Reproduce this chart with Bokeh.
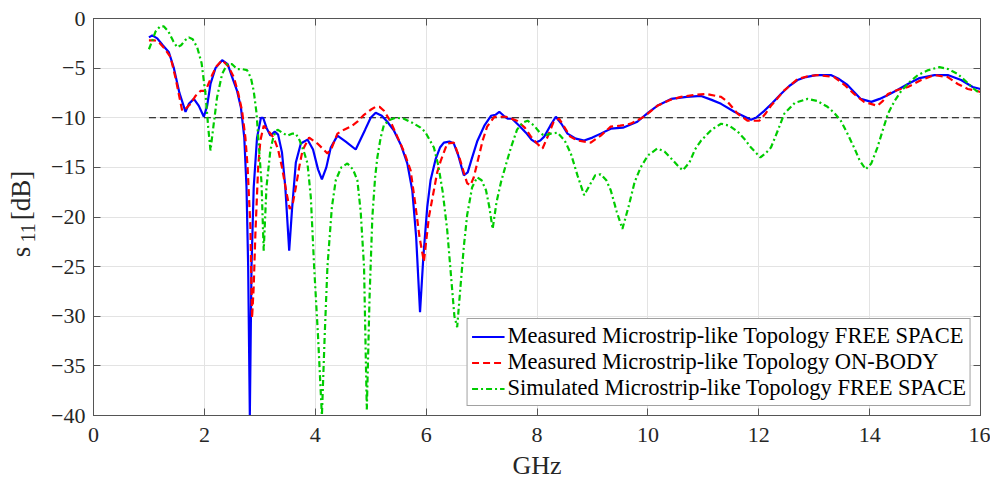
import math
from bokeh.plotting import figure
from bokeh.layouts import row
from bokeh.models import Range1d, LinearAxis, Legend, LegendItem, FixedTicker
from bokeh.core.properties import value
from bokeh.embed import file_html
from bokeh.resources import INLINE

# ---------------- data ----------------
freq_meas_fs = [1.00, 1.06, 1.15, 1.25, 1.36, 1.45, 1.55, 1.66, 1.72, 1.81, 1.90, 1.99, 2.05, 2.11, 2.20,
                2.32, 2.42, 2.52, 2.59, 2.66, 2.72, 2.76, 2.79, 2.82, 2.85, 2.89, 2.95, 3.02, 3.06, 3.12,
                3.19, 3.27, 3.33, 3.40, 3.46, 3.53, 3.58, 3.65, 3.74, 3.86, 3.96, 4.05, 4.12, 4.20, 4.28,
                4.40, 4.55, 4.73, 4.90, 5.00, 5.09, 5.20, 5.30, 5.42, 5.55, 5.66, 5.75, 5.82, 5.89, 5.95,
                6.02, 6.08, 6.17, 6.25, 6.32, 6.42, 6.50, 6.58, 6.68, 6.75, 6.82, 6.92, 7.05, 7.17, 7.25,
                7.32, 7.40, 7.47, 7.55, 7.68, 7.80, 7.90, 7.98, 8.06, 8.13, 8.24, 8.34, 8.44, 8.55, 8.70,
                8.85, 9.00, 9.15, 9.33, 9.55, 9.81, 10.00, 10.17, 10.42, 10.70, 10.96, 11.15, 11.32, 11.56,
                11.86, 11.95, 12.10, 12.25, 12.40, 12.55, 12.70, 12.85, 13.03, 13.30, 13.45, 13.60, 13.72,
                13.84, 14.03, 14.18, 14.33, 14.50, 14.69, 14.90, 15.17, 15.41, 15.65, 15.86, 16.00]
s11_meas_fs = [-1.9, -1.7, -2.0, -2.7, -3.4, -5.0, -7.5, -9.4, -8.6, -8.1, -8.8, -9.9, -8.8, -6.6, -5.0,
               -4.2, -4.6, -6.2, -7.3, -9.0, -12.0, -17.0, -25.0, -40.0, -25.0, -17.0, -12.0, -10.0, -10.0, -11.0,
               -11.8, -11.4, -11.7, -13.5, -17.0, -23.4, -19.3, -14.5, -12.6, -12.2, -13.2, -15.2, -16.2, -15.0, -13.0,
               -11.8, -12.4, -13.2, -11.2, -10.0, -9.5, -9.8, -10.4, -11.3, -12.8, -14.6, -17.3, -22.0, -29.6, -24.0,
               -19.0, -16.3, -14.2, -13.0, -12.5, -12.4, -12.6, -13.8, -15.8, -15.5, -14.2, -12.4, -10.8, -9.8, -9.7,
               -9.4, -9.8, -10.1, -10.1, -10.8, -11.5, -12.2, -12.5, -12.3, -11.9, -10.8, -9.9, -10.6, -11.6, -12.1,
               -12.3, -12.0, -11.6, -11.1, -11.0, -10.4, -9.5, -8.8, -8.1, -7.9, -7.8, -8.2, -8.6, -9.4,
               -10.2, -10.0, -9.3, -8.5, -7.6, -6.8, -6.2, -5.9, -5.7, -5.7, -6.1, -6.7, -7.4,
               -8.1, -8.4, -8.1, -7.7, -7.2, -6.6, -6.0, -5.7, -5.7, -6.2, -6.9, -7.1]

freq_meas_body = [1.00, 1.10, 1.18, 1.28, 1.39, 1.48, 1.60, 1.68, 1.75, 1.84, 1.93, 2.02, 2.08, 2.14, 2.22,
                  2.32, 2.43, 2.53, 2.61, 2.68, 2.74, 2.78, 2.83, 2.86, 2.89, 2.92, 2.97, 3.01, 3.07, 3.15,
                  3.25, 3.33, 3.40, 3.48, 3.54, 3.60, 3.65, 3.71, 3.77, 3.89, 4.04, 4.15, 4.22, 4.30, 4.40,
                  4.52, 4.64, 4.76, 4.88, 5.00, 5.09, 5.16, 5.24, 5.36, 5.48, 5.60, 5.72, 5.80, 5.88, 5.96,
                  6.05, 6.14, 6.20, 6.26, 6.38, 6.50, 6.60, 6.68, 6.74, 6.80, 6.86, 6.92, 7.02, 7.10, 7.23,
                  7.44, 7.64, 7.78, 7.89, 8.00, 8.10, 8.20, 8.30, 8.40, 8.50, 8.60, 8.73, 8.97, 9.15, 9.33,
                  9.50, 9.69, 9.93, 10.17, 10.40, 10.60, 10.83, 11.05, 11.32, 11.44, 11.62, 11.80, 12.01, 12.12,
                  12.22, 12.45, 12.70, 12.90, 13.06, 13.36, 13.55, 13.72, 13.90, 14.14, 14.24, 14.33, 14.50,
                  14.69, 14.93, 15.17, 15.41, 15.59, 15.77, 15.86, 16.00]
s11_meas_body = [-2.2, -2.2, -2.4, -3.0, -3.9, -6.0, -9.3, -9.0, -8.6, -7.8, -7.3, -7.3, -6.5, -5.7, -4.8,
                 -4.2, -4.8, -5.9, -7.5, -9.3, -12.0, -15.0, -21.0, -30.2, -27.0, -21.7, -15.0, -12.3, -10.8, -11.3,
                 -12.0, -13.2, -15.0, -17.5, -19.2, -18.5, -17.0, -15.0, -13.3, -12.0, -12.6, -13.2, -13.6, -13.0, -11.6,
                 -11.2, -10.9, -10.4, -9.7, -9.2, -8.9, -8.9, -9.3, -10.4, -11.9, -13.4, -15.3, -18.5, -22.0, -24.5,
                 -20.0, -17.3, -15.5, -14.4, -12.6, -12.5, -14.0, -15.5, -16.6, -16.8, -16.0, -14.6, -12.3, -10.9, -9.9,
                 -9.9, -10.3, -11.0, -11.9, -12.6, -13.1, -11.8, -10.4, -10.1, -11.0, -11.9, -12.3, -12.5, -11.8, -10.9,
                 -10.8, -10.6, -9.9, -8.8, -8.2, -7.9, -7.7, -7.6, -7.9, -8.4, -9.6, -10.3, -10.3, -9.6,
                 -8.8, -7.3, -6.1, -5.8, -5.7, -5.9, -6.7, -7.6, -8.4, -8.8, -8.3, -7.6, -7.2,
                 -6.9, -6.2, -5.7, -5.9, -6.6, -7.1, -7.2, -7.4]

freq_sim_fs = [1.00, 1.05, 1.12, 1.20, 1.27, 1.35, 1.44, 1.51, 1.58, 1.65, 1.72, 1.79, 1.87, 1.95, 2.02,
               2.07, 2.11, 2.16, 2.23, 2.32, 2.41, 2.50, 2.59, 2.68, 2.77, 2.84, 2.89, 2.94, 2.98, 3.03,
               3.07, 3.12, 3.19, 3.25, 3.32, 3.40, 3.50, 3.58, 3.65, 3.72, 3.80, 3.86, 3.92, 3.98, 4.05,
               4.12, 4.17, 4.22, 4.30, 4.37, 4.47, 4.58, 4.68, 4.76, 4.82, 4.88, 4.93, 4.98, 5.03, 5.08,
               5.12, 5.18, 5.24, 5.35, 5.45, 5.60, 5.75, 5.90, 5.98, 6.06, 6.14, 6.22, 6.30, 6.38, 6.45,
               6.51, 6.56, 6.62, 6.68, 6.74, 6.83, 6.92, 7.00, 7.08, 7.14, 7.20, 7.27, 7.35, 7.41, 7.53,
               7.64, 7.74, 7.83, 7.95, 8.05, 8.13, 8.25, 8.37, 8.50, 8.61, 8.73, 8.85, 8.95, 9.05, 9.15,
               9.25, 9.33, 9.44, 9.54, 9.65, 9.76, 9.87, 10.00, 10.17, 10.30, 10.42, 10.55, 10.63, 10.75,
               10.85, 10.96, 11.15, 11.32, 11.47, 11.62, 11.75, 11.86, 12.03, 12.12, 12.22, 12.35, 12.46,
               12.65, 12.88, 13.05, 13.24, 13.36, 13.48, 13.60, 13.72, 13.82, 13.93, 14.03, 14.14, 14.24,
               14.33, 14.45, 14.57, 14.72, 14.87, 15.06, 15.26, 15.42, 15.59, 15.75, 15.86, 16.00]
s11_sim_fs = [-3.1, -2.4, -1.3, -0.8, -0.8, -1.3, -2.3, -2.9, -2.7, -2.2, -1.9, -2.1, -2.9, -4.5, -7.6,
              -11.0, -13.3, -11.0, -7.9, -5.6, -4.6, -4.6, -5.1, -5.1, -5.2, -6.0, -7.3, -9.5, -12.6, -16.5,
              -23.4, -17.0, -13.3, -11.8, -11.2, -11.5, -11.8, -11.6, -11.6, -12.3, -13.5, -14.6, -18.0, -25.0, -32.0,
              -40.0, -32.0, -25.0, -19.0, -16.3, -15.0, -14.6, -15.2, -16.3, -19.5, -25.0, -39.4, -28.0, -20.0, -16.0,
              -14.0, -12.0, -10.7, -10.2, -10.0, -10.1, -10.5, -11.0, -11.4, -12.2, -13.0, -14.8, -17.5, -21.3, -26.0,
              -30.0, -31.1, -27.0, -23.0, -19.8, -17.0, -16.0, -16.3, -17.3, -19.0, -21.2, -18.5, -16.5, -15.3, -13.0,
              -11.2, -10.5, -10.3, -10.8, -11.5, -11.8, -11.6, -11.5, -12.3, -13.6, -15.8, -17.8, -16.8, -15.8, -15.7,
              -16.3, -17.3, -19.5, -21.2, -19.0, -16.5, -15.0, -13.8, -13.1, -13.4, -14.1, -14.9, -15.3, -14.5,
              -13.2, -12.3, -11.2, -10.6, -10.8, -11.4, -12.2, -13.0, -14.0, -13.6, -13.0, -11.2, -9.6,
              -8.5, -8.1, -8.3, -8.9, -9.5, -10.3, -11.6, -13.0, -14.3, -15.2, -14.6, -13.0, -11.2,
              -9.6, -8.3, -7.3, -6.4, -5.7, -5.2, -4.9, -5.1, -5.6, -6.4, -7.0, -7.6]

threshold_freq = [1.0, 16.0]
threshold_db = [-10.0, -10.0]

x_ticks = [0, 2, 4, 6, 8, 10, 12, 14, 16]
y_ticks = [0, -5, -10, -15, -20, -25, -30, -35, -40]

series_labels = ["Measured Microstrip-like Topology FREE SPACE",
                 "Measured Microstrip-like Topology ON-BODY",
                 "Simulated Microstrip-like Topology FREE SPACE"]

# y-axis title pieces: "s" with subscript "11", then "[dB]"
ylabel_parts = ["s", "11", "[dB]"]

FONT = "Liberation Serif"
AX = "#555555"
TXT = "#262626"
LABEL_W = 45

# ---------- narrow panel holding the y-axis title ----------
lab = figure(width=LABEL_W, height=484, output_backend="svg", toolbar_location=None,
             x_range=Range1d(0, LABEL_W), y_range=Range1d(0, 484),
             x_axis_type=None, y_axis_type=None, min_border=0)
lab.outline_line_color = None
lab.background_fill_color = "white"
lab.border_fill_color = "white"
# positions in panel pixels (y from bottom), tuned to the rendered layout
lab.text(x=[20], y=[193], text=[ylabel_parts[0]], angle=math.pi / 2,
         text_font=value(FONT), text_font_size="27px", text_color=TXT,
         text_align="left", text_baseline="alphabetic")
lab.text(x=[27], y=[211], text=[ylabel_parts[1]], angle=math.pi / 2,
         text_font=value(FONT), text_font_size="20px", text_color=TXT,
         text_align="left", text_baseline="alphabetic")
lab.text(x=[20.5], y=[238], text=[ylabel_parts[2]], angle=math.pi / 2,
         text_font=value(FONT), text_font_size="27px", text_color=TXT,
         text_align="left", text_baseline="alphabetic")

# ---------- main plot ----------
p = figure(width=990 - LABEL_W, height=484, output_backend="svg", toolbar_location=None,
           x_range=Range1d(0, 16), y_range=Range1d(-40, 0),
           min_border_left=93 - LABEL_W, min_border_right=10, min_border_top=18, min_border_bottom=69)
p.background_fill_color = "white"
p.border_fill_color = "white"
p.outline_line_color = AX
p.outline_line_width = 1

p.xaxis.ticker = FixedTicker(ticks=x_ticks)
p.yaxis.ticker = FixedTicker(ticks=y_ticks)

p.axis.major_tick_in = 7
p.axis.major_tick_out = 0
p.axis.minor_tick_line_color = None
p.axis.axis_line_color = AX
p.axis.major_tick_line_color = AX
p.axis.major_label_text_color = TXT
p.axis.major_label_text_font = FONT
p.axis.major_label_text_font_size = "22px"
p.axis.major_label_text_font_style = "normal"
p.xaxis.major_label_standoff = 12
p.yaxis.major_label_standoff = 8

p.xaxis.axis_label = "GHz"
p.xaxis.axis_label_text_font = FONT
p.xaxis.axis_label_text_font_size = "26px"
p.xaxis.axis_label_text_font_style = "normal"
p.xaxis.axis_label_text_color = TXT
p.xaxis.axis_label_standoff = 6

# mirrored axes on top and right (ticks only)
top = LinearAxis(ticker=FixedTicker(ticks=x_ticks), major_tick_in=7, major_tick_out=0,
                 minor_tick_line_color=None, axis_line_color=AX, major_tick_line_color=AX,
                 major_label_text_font_size="1px", major_label_text_color=None, major_label_standoff=0)
right = LinearAxis(ticker=FixedTicker(ticks=y_ticks), major_tick_in=7, major_tick_out=0,
                   minor_tick_line_color=None, axis_line_color=AX, major_tick_line_color=AX,
                   major_label_text_font_size="1px", major_label_text_color=None, major_label_standoff=0)
p.add_layout(top, "above")
p.add_layout(right, "right")

p.xgrid.grid_line_color = "#e3e3e3"
p.ygrid.grid_line_color = "#e3e3e3"

p.line(threshold_freq, threshold_db, line_color="black", line_width=1, line_dash="7 4")

r1 = p.line(freq_meas_fs, s11_meas_fs, line_color="#0000ff", line_width=2.2)
r2 = p.line(freq_meas_body, s11_meas_body, line_color="#ff0000", line_width=2.2, line_dash="7 4")
r3 = p.line(freq_sim_fs, s11_sim_fs, line_color="#00cc00", line_width=2.2, line_dash="6 3 2 3")

legend = Legend(items=[LegendItem(label=series_labels[0], renderers=[r1]),
                       LegendItem(label=series_labels[1], renderers=[r2]),
                       LegendItem(label=series_labels[2], renderers=[r3])],
                location="bottom_right", margin=9, padding=4, spacing=0,
                glyph_width=33, glyph_height=23, label_height=23, label_standoff=3,
                border_line_color="#444444", border_line_width=1, background_fill_alpha=1.0)
legend.label_text_font = FONT
legend.label_text_font_size = "22.5px"
legend.label_text_font_style = "normal"
legend.label_text_color = "black"
p.add_layout(legend, "center")

layout = row(lab, p, spacing=0)
open("out.html", "w").write(file_html(layout, INLINE))
